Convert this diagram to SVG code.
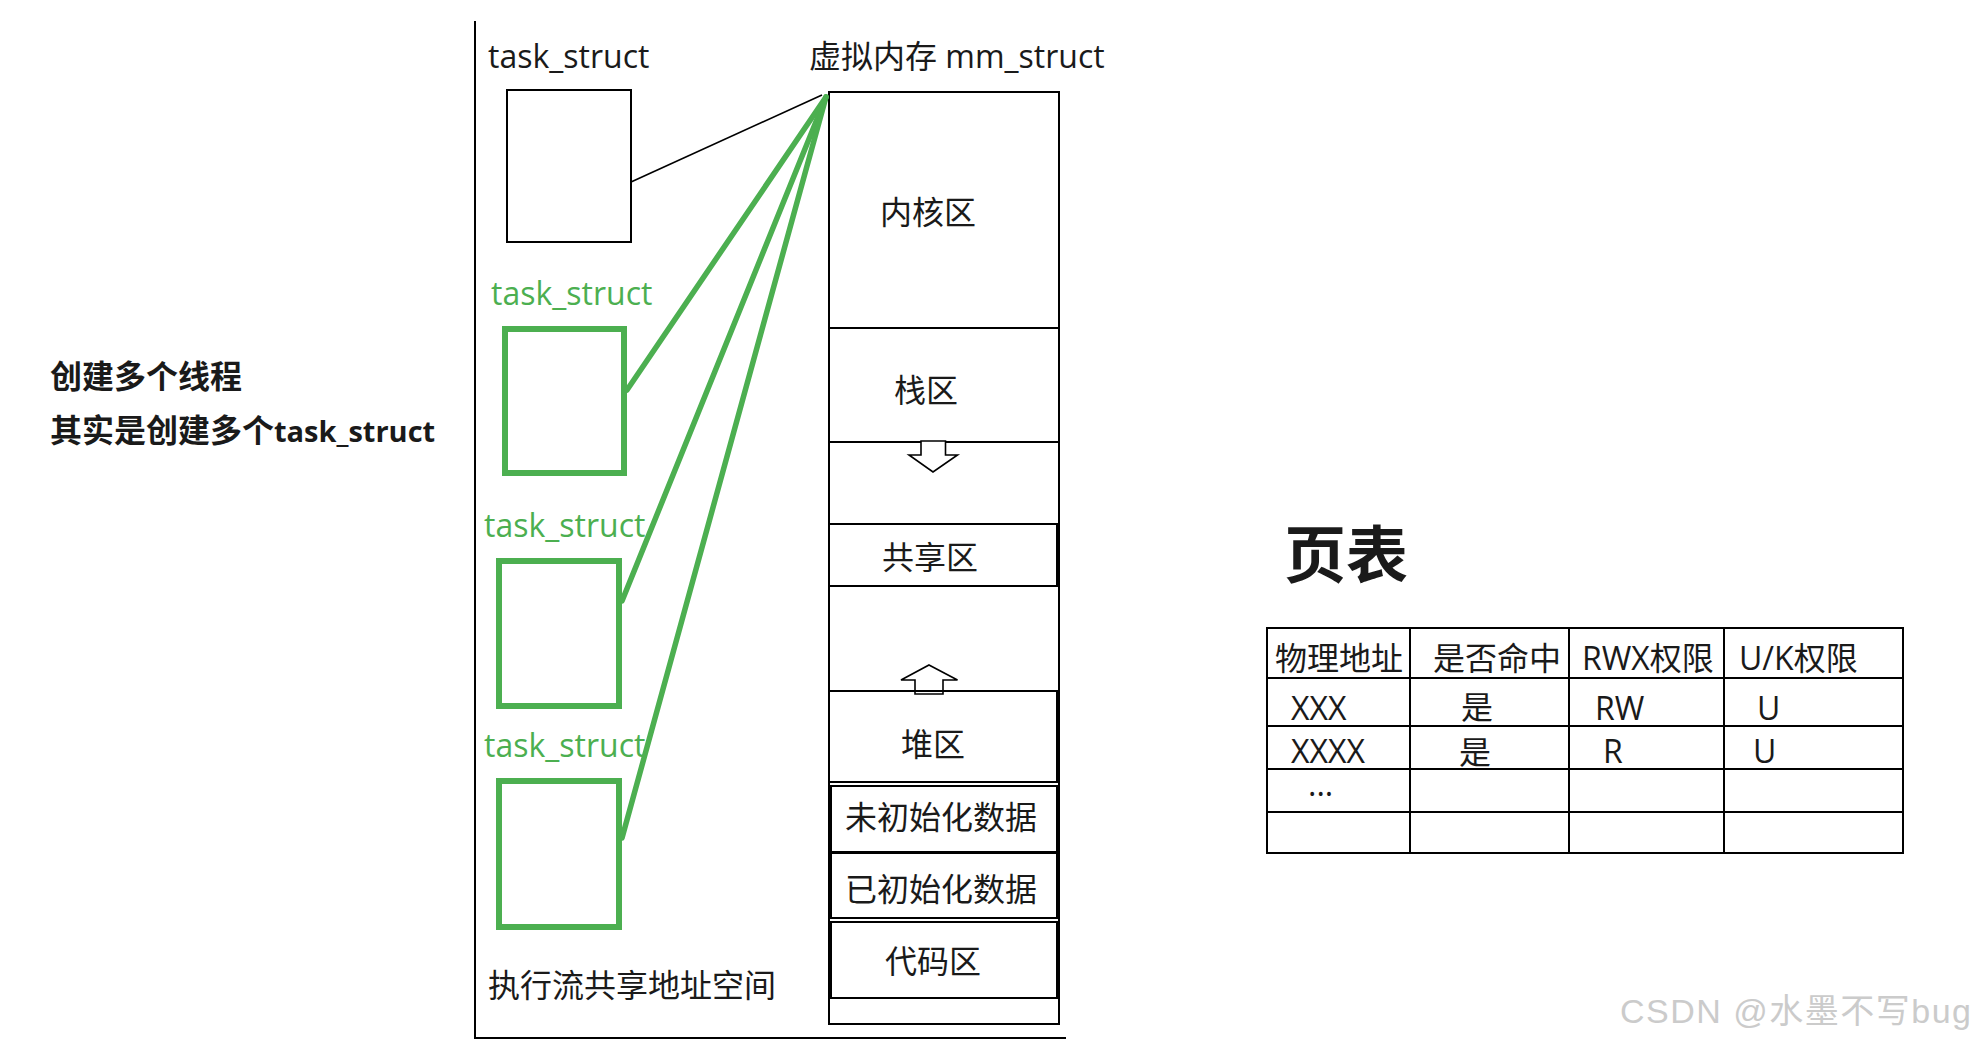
<svg xmlns="http://www.w3.org/2000/svg" width="1982" height="1048" viewBox="0 0 1982 1048">
<style>
.t{font-family:"Open Sans","Noto Sans CJK SC",sans-serif;font-size:32px;fill:#1a1a1a}
.c{text-anchor:middle}
.g{fill:#4caf50}
.b{font-weight:bold}
.ln{fill:none;stroke:#000;stroke-width:2}
.gb{fill:none;stroke:#4caf50;stroke-width:6}
.gl{stroke:#4caf50;stroke-width:5.5;stroke-linecap:round}
.ar{fill:#fff;stroke:#000;stroke-width:1.6}
.wm{font-family:"Liberation Sans","Noto Sans CJK SC",sans-serif;font-size:34px;fill:#cbcbcb;letter-spacing:1.5px}
</style>
<rect width="1982" height="1048" fill="#fff"/>

<g id="note">
<text class="t b" x="50" y="388">创建多个线程</text>
<text class="t b" x="50" y="442">其实是创建多个<tspan style="font-size:29px">task_struct</tspan></text>
</g>

<g id="frame">
<polyline class="ln" points="475,21 475,1038 1066,1038"/>
<text class="t" x="488" y="997">执行流共享地址空间</text>
</g>

<g id="task1">
<text class="t" x="488" y="68">task_struct</text>
<rect class="ln" x="507" y="90" width="124" height="152"/>
</g>
<g id="task2">
<text class="t g" x="491" y="305">task_struct</text>
<rect class="gb" x="505" y="329" width="119" height="144"/>
</g>
<g id="task3">
<text class="t g" x="484" y="537">task_struct</text>
<rect class="gb" x="499" y="561" width="120" height="145"/>
</g>
<g id="task4">
<text class="t g" x="484" y="757">task_struct</text>
<rect class="gb" x="499" y="781" width="120" height="146"/>
</g>

<g id="mm">
<text class="t" x="809" y="68">虚拟内存 mm_struct</text>
<rect class="ln" x="829" y="92" width="230" height="932"/>
<line class="ln" x1="829" y1="328" x2="1059" y2="328"/>
<text class="t c" x="928" y="224">内核区</text>
<line class="ln" x1="829" y1="442" x2="1059" y2="442"/>
<text class="t c" x="926" y="402">栈区</text>
<polygon class="ar" points="921,441 945.5,441 945.5,455 957.5,455 933,472 909,455 921,455"/>
<rect class="ln" x="829" y="524" width="228" height="62"/>
<text class="t c" x="930" y="569">共享区</text>
<polygon class="ar" points="929,665 957.5,680 943,680 943,694 915,694 915,680 901,680"/>
<rect class="ln" x="829" y="691" width="228" height="91"/>
<text class="t c" x="933" y="756">堆区</text>
<rect class="ln" x="831" y="786" width="226" height="66"/>
<text class="t" x="845" y="829">未初始化数据</text>
<rect class="ln" x="831" y="853" width="226" height="65"/>
<text class="t" x="845" y="901">已初始化数据</text>
<rect class="ln" x="831" y="922" width="226" height="76"/>
<text class="t c" x="933" y="973">代码区</text>
</g>

<g id="connectors">
<line x1="631" y1="182" x2="822" y2="95" stroke="#000" stroke-width="1.6"/>
<line class="gl" x1="627" y1="390" x2="826" y2="97"/>
<line class="gl" x1="622" y1="601" x2="826" y2="97"/>
<line class="gl" x1="622" y1="838" x2="826" y2="97"/>
</g>

<g id="pagetable">
<text class="t b" x="1284" y="578" style="font-size:62px">页表</text>
<rect class="ln" x="1267" y="628" width="636" height="225"/>
<line class="ln" x1="1267" y1="678" x2="1903" y2="678"/>
<line class="ln" x1="1267" y1="726" x2="1903" y2="726"/>
<line class="ln" x1="1267" y1="769" x2="1903" y2="769"/>
<line class="ln" x1="1267" y1="812" x2="1903" y2="812"/>
<line class="ln" x1="1410" y1="628" x2="1410" y2="853"/>
<line class="ln" x1="1569" y1="628" x2="1569" y2="853"/>
<line class="ln" x1="1724" y1="628" x2="1724" y2="853"/>
<text class="t" x="1275" y="670">物理地址</text>
<text class="t" x="1433" y="670">是否命中</text>
<text class="t" x="1582" y="670">RWX权限</text>
<text class="t" x="1739" y="670">U/K权限</text>
<text class="t" x="1291" y="720">XXX</text>
<text class="t" x="1461" y="719">是</text>
<text class="t" x="1595" y="720">RW</text>
<text class="t" x="1757" y="720">U</text>
<text class="t" x="1291" y="763">XXXX</text>
<text class="t" x="1459" y="764">是</text>
<text class="t" x="1603" y="763">R</text>
<text class="t" x="1753" y="763">U</text>
<text class="t" x="1308" y="796">...</text>
</g>

<text class="wm" x="1620" y="1023">CSDN @水墨不写bug</text>
</svg>
